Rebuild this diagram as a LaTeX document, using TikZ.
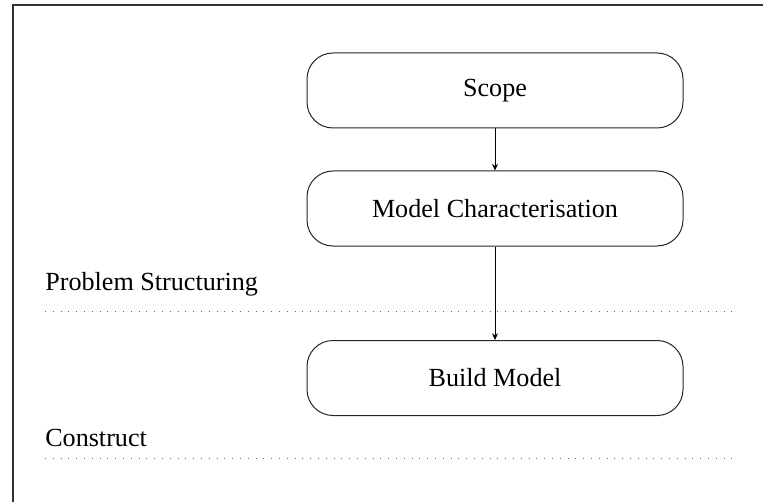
\documentclass[tikz,border=0pt]{standalone}
\usepackage{fontspec}
\setmainfont{Liberation Serif}
\usetikzlibrary{arrows.meta}

\begin{document}
\begin{tikzpicture}[x=0.75pt,y=0.75pt,yscale=-1,xscale=1,
  stage/.style={draw=black!85, line width=0.75pt, rounded corners=19.5pt,
    minimum width=282pt, minimum height=56.25pt, inner sep=0pt,
    font=\fontsize{19.6}{24}\selectfont},
  phase/.style={anchor=base west, inner sep=0pt, font=\fontsize{19.6}{24}\selectfont},
  sep/.style={black!60, line width=0.75pt, dash pattern=on 0.75pt off 5.1pt},
  flow/.style={-{Stealth[length=5pt,width=4.5pt]}, line width=0.6pt}]
\useasboundingbox (0,0) rectangle (763,502);

%Frame
\draw [black!80, line width=1.5pt] (12.5,502) -- (12.5,5.5) -- (763,5.5) ;

%Stages
\node [stage] (scope) at (495,90.5) {Scope};
\node [stage] (model) at (495,208.5) {Model Characterisation};
\node [stage] (build) at (495,378) {Build Model};

%Phase labels
\node [phase] (structuring) at (45,290) {Problem Structuring};
\node [phase] (construct) at (45,446) {Construct};

%Separators
\draw [sep] (45,311) -- (733,311) ;
\draw [sep] (45,458) -- (733,458) ;

%Arrows
\draw [flow] (scope) -- (model) ;
\draw [flow] (model) -- (build) ;

\end{tikzpicture}
\end{document}
